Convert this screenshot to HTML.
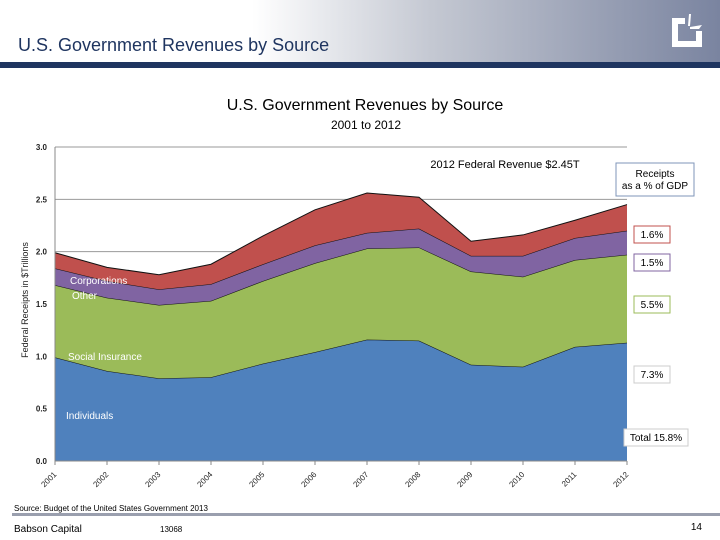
<!DOCTYPE html>
<html><head><meta charset="utf-8"><style>
body{margin:0;width:720px;height:540px;overflow:hidden;background:#fff;font-family:"Liberation Sans",sans-serif;}
svg{display:block}
</style></head><body>
<svg id="s" width="720" height="540" xmlns="http://www.w3.org/2000/svg">
<defs><linearGradient id="hg" x1="0" x2="1" y1="0" y2="0"><stop offset="0.35" stop-color="#ffffff"/><stop offset="0.6" stop-color="#c4c8d2"/><stop offset="1" stop-color="#7a84a0"/></linearGradient></defs>
<rect x="0" y="0" width="720" height="62" fill="url(#hg)"/>
<rect x="0" y="62" width="720" height="6" fill="#1f3560"/>
<text x="18" y="51" font-size="18" fill="#1f3560">U.S. Government Revenues by Source</text>
<g fill="#fff">
<path d="M672 18h13v6h-7v17h18v-10h6v16h-30z"/><path d="M689 14l2 0-1 12-2 0z"/><path d="M690 27l12-2-3 4-9 0z"/>
</g>
<text x="365" y="110" font-size="16" text-anchor="middle" fill="#000">U.S. Government Revenues by Source</text>
<text x="366" y="129" font-size="12" text-anchor="middle" fill="#000">2001 to 2012</text>
<g id="grid"></g><g id="areas"></g><g id="axes"></g>
<text x="505" y="168" font-size="11" text-anchor="middle">2012 Federal Revenue  $2.45T</text>
<text transform="translate(28,300) rotate(-90)" font-size="9" text-anchor="middle" fill="#222">Federal Receipts in $Trillions</text>
<g font-size="10" fill="#fff">
<text x="70" y="284">Corporations</text>
<text x="72" y="299">Other</text>
<text x="68" y="360">Social Insurance</text>
<text x="66" y="419">Individuals</text>
</g>
<g font-size="10">
<rect x="616" y="163" width="78" height="33" fill="#fff" stroke="#7f96b8"/>
<text x="655" y="177" text-anchor="middle">Receipts</text><text x="655" y="189" text-anchor="middle">as a % of GDP</text>
<rect x="634" y="226" width="36" height="17" fill="#fff" stroke="#c0504d"/><text x="652" y="238" text-anchor="middle">1.6%</text>
<rect x="634" y="254" width="36" height="17" fill="#fff" stroke="#8064a2"/><text x="652" y="266" text-anchor="middle">1.5%</text>
<rect x="634" y="296" width="36" height="17" fill="#fff" stroke="#9bbb59"/><text x="652" y="308" text-anchor="middle">5.5%</text>
<rect x="634" y="366" width="36" height="17" fill="#fff" stroke="#ccc"/><text x="652" y="378" text-anchor="middle">7.3%</text>
<rect x="624" y="429" width="64" height="17" fill="#fff" stroke="#ccc"/><text x="656" y="441" text-anchor="middle">Total 15.8%</text>
</g>
<text x="14" y="511" font-size="8">Source: Budget of the United States Government 2013</text>
<rect x="12" y="513" width="708" height="3" fill="#9a9fae"/>
<text x="14" y="532" font-size="10">Babson Capital</text>
<text x="160" y="532" font-size="8">13068</text>
<text x="702" y="530" font-size="10" text-anchor="end">14</text>
</svg>
<script>
const years=["2001","2002","2003","2004","2005","2006","2007","2008","2009","2010","2011","2012"];
const individuals=[0.99,0.86,0.79,0.80,0.93,1.04,1.16,1.15,0.92,0.90,1.09,1.13];
const socialInsurance=[0.69,0.70,0.70,0.73,0.79,0.85,0.87,0.89,0.89,0.86,0.83,0.84];
const other=[0.16,0.16,0.15,0.16,0.16,0.17,0.15,0.18,0.15,0.20,0.21,0.23];
const corporations=[0.15,0.13,0.14,0.19,0.27,0.34,0.38,0.30,0.14,0.20,0.17,0.25];
const yTicks=["0.0","0.5","1.0","1.5","2.0","2.5","3.0"];
const NS="http://www.w3.org/2000/svg";
const x0=55,x1=627,yb=461,yt=147,ymax=3;
const X=i=>x0+i*(x1-x0)/(years.length-1);
const Y=v=>yb-v/ymax*(yb-yt);
function mk(t,a,p){const e=document.createElementNS(NS,t);for(const k in a)e.setAttribute(k,a[k]);p.appendChild(e);return e;}
const grid=document.getElementById('grid'),areas=document.getElementById('areas'),axes=document.getElementById('axes');
yTicks.forEach(t=>{const y=Y(+t);
const l=mk('line',{x1:x0,x2:x1,y1:y,y2:y,stroke:'#999','stroke-width':1},grid);


const tx=mk('text',{x:x0-8,y:y+3,'font-size':8,'font-weight':'bold','text-anchor':'end',fill:'#222'},axes);tx.textContent=t;

});
const series=[["individuals",individuals,"#4f81bd"],["social-insurance",socialInsurance,"#9bbb59"],["other",other,"#8064a2"],["corporations",corporations,"#c0504d"]];
let base=years.map(()=>0);
series.forEach(([n,vals,c])=>{const top=base.map((b,i)=>b+vals[i]);
let d="M"+top.map((v,i)=>X(i)+","+Y(v)).join(" L");
for(let i=years.length-1;i>=0;i--)d+=" L"+X(i)+","+Y(base[i]);d+="Z";
const p=mk('path',{d:d,fill:c},areas);


const ln=mk('polyline',{points:top.map((v,i)=>X(i)+","+Y(v)).join(" "),fill:'none',stroke:'#111','stroke-width':1},areas);


base=top;});
const ax=mk('line',{x1:x0,x2:x1,y1:yb,y2:yb,stroke:'#888'},axes);


const ay=mk('line',{x1:x0,x2:x0,y1:yt,y2:yb,stroke:'#888'},axes);


years.forEach((yr,i)=>{const x=X(i);
const tk=mk('line',{x1:x,x2:x,y1:yb,y2:yb+4,stroke:'#888'},axes);


const t=mk('text',{x:x+2,y:yb+14,'font-size':8,'text-anchor':'end',fill:'#222',transform:`rotate(-45 ${x+2} ${yb+14})`},axes);t.textContent=yr;

});
</script>
</body></html>
